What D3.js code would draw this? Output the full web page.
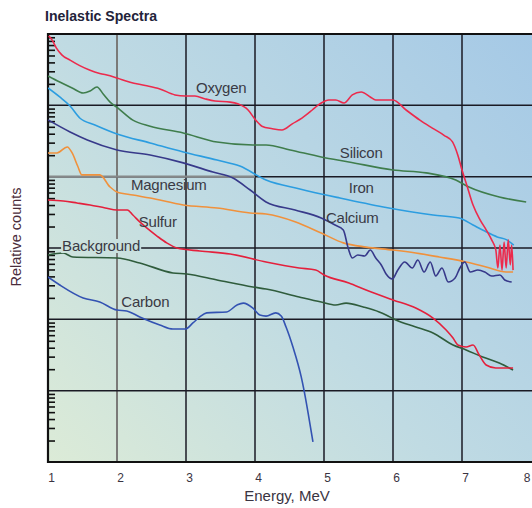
<!DOCTYPE html>
<html><head><meta charset="utf-8">
<script src="https://cdn.jsdelivr.net/npm/d3@7"></script>
<style>
body{margin:0;background:#fff;}
svg text{font-family:"Liberation Sans",Arial,sans-serif;}
</style>
</head><body>
<svg id="chart" width="532" height="508"></svg>
<script>
// ---------- DATA (energy in MeV, relative counts) ----------
const xTickValues = [1, 2, 3, 4, 5, 6, 7, 8];
const yDecades = [1, 10, 100, 1000, 10000, 100000, 1000000];

const oxygenE = [1.01,1.06,1.12,1.2,1.32,1.46,1.61,1.75,1.9,2.01,2.19,2.41,2.62,2.84,2.99,3.13,3.28,3.42,3.64,3.75,3.9,4.01,4.1,4.25,4.39,4.54,4.68,4.83,4.91,4.96,5.07,5.17,5.29,5.41,5.54,5.67,5.75,6.0,6.19,6.39,6.57,6.74,6.86,6.94,7.0,7.07,7.16,7.26,7.35,7.43,7.49,7.52,7.55,7.58,7.61,7.64,7.67,7.7,7.72,7.74];
const oxygenC = [9.4e5,8.2e5,6.4e5,5.1e5,4.3e5,3.6e5,3.1e5,2.8e5,2.6e5,2.4e5,2.1e5,1.9e5,1.7e5,1.4e5,1.35e5,1.35e5,1.23e5,1.15e5,1.11e5,1.05e5,8.6e4,6.2e4,5.1e4,4.7e4,4.5e4,5.5e4,6.6e4,8.6e4,1.0e5,1.08e5,1.19e5,1.19e5,1.08e5,1.4e5,1.54e5,1.31e5,1.19e5,1.19e5,8.6e4,6.2e4,4.8e4,3.8e4,3.1e4,2.0e4,1.24e4,7.6e3,4.0e3,2.5e3,1.8e3,1.3e3,940,525,1100,490,1210,525,1300,580,1100,490];

const siliconE = [1.0,1.17,1.35,1.51,1.61,1.71,1.8,1.9,2.01,2.23,2.48,2.96,3.45,3.97,4.16,4.51,4.96,5.36,6.0,6.48,6.91,7.1,7.54,7.93];
const siliconC = [2.58e5,2.12e5,1.75e5,1.49e5,1.59e5,1.81e5,1.44e5,1.11e5,9.2e4,6.2e4,5.1e4,4.1e4,3.06e4,2.78e4,2.78e4,2.37e4,1.89e4,1.61e4,1.24e4,1.13e4,8.98e3,7.16e3,5.19e3,4.42e3];

const ironE = [1.0,1.17,1.32,1.46,1.68,2.0,2.48,2.96,3.45,3.78,4.16,4.65,5.23,5.86,6.58,6.96,7.16,7.33,7.51,7.65,7.75];
const ironC = [1.75e5,1.31e5,9.8e4,6.65e4,5.31e4,3.97e4,2.97e4,2.22e4,1.71e4,1.41e4,8.98e3,6.72e3,5.02e3,3.76e3,2.9e3,2.64e3,2.1e3,1.73e3,1.43e3,1.3e3,1.1e3];

const calciumE = [1.0,1.32,1.57,2.0,2.48,2.96,3.39,3.68,3.93,4.16,4.58,4.96,5.16,5.28,5.35,5.41,5.49,5.59,5.67,5.75,5.83,5.9,5.99,6.07,6.17,6.28,6.36,6.45,6.54,6.62,6.71,6.8,6.9,6.97,7.04,7.12,7.23,7.33,7.43,7.55,7.62,7.72];
const calciumC = [6.24e4,4.23e4,3.27e4,2.37e4,2.01e4,1.56e4,1.16e4,9.58e3,6.5e3,4.42e3,3.41e3,2.64e3,2.1e3,1.79e3,1.0e3,724,798,773,938,724,578,432,368,492,637,525,679,461,637,405,525,334,380,525,637,461,492,461,405,419,356,334];

const magnesiumE = [1.0,1.13,1.28,1.35,1.43,1.49,1.75,1.9,2.0,2.23,2.48,2.96,3.45,3.93,4.16,4.59,4.96,5.28,5.61,6.0,6.33,6.67,7.06,7.35,7.64,7.74];
const magnesiumC = [2.15e4,2.15e4,2.61e4,2.15e4,1.41e4,1.06e4,1.06e4,7.16e3,6.1e3,5.53e3,5.02e3,4.01e3,3.64e3,3.1e3,3.0e3,2.32e3,1.62e3,1.18e3,1.03e3,938,851,748,637,542,461,461];

const sulfurE = [1.0,1.22,1.42,1.61,1.83,2.0,2.15,2.23,2.33,2.43,2.58,2.72,2.87,3.2,3.64,4.16,4.64,4.88,5.0,5.36,5.61,6.0,6.33,6.58,6.77,6.87,6.94,7.06,7.16,7.25,7.35,7.49,7.74];
const sulfurC = [4.71e3,4.56e3,4.28e3,4.01e3,3.64e3,3.41e3,3.41e3,2.9e3,2.32e3,1.91e3,1.47e3,1.18e3,1.0e3,908,824,637,525,492,419,323,258,187,144,104,70.9,54.7,43.7,40.9,43.7,31.6,22.9,20.8,20.8];

const backgroundE = [1.0,1.22,1.36,2.0,2.33,2.81,3.01,3.45,3.97,4.16,4.64,4.96,5.17,5.32,5.57,5.8,5.9,6.04,6.33,6.58,6.87,7.06,7.3,7.54,7.74];
const backgroundC = [798,851,748,724,617,447,432,356,284,266,206,175,159,169,149,127,115,97.9,78.1,64.3,43.7,37.2,29.6,24.4,19.5];

const carbonE = [1.0,1.17,1.51,1.75,2.0,2.14,2.33,2.62,2.81,2.99,3.1,3.2,3.3,3.59,3.74,3.83,3.97,4.07,4.16,4.3,4.38,4.45,4.55,4.67,4.71,4.77,4.84];
const carbonC = [392,303,199,175,135,131,108,83.3,73.1,73.1,88.9,108,123,127,159,169,144,115,111,123,111,78.1,40.9,15.6,10.2,4.86,1.91];

const labelNames = ["Oxygen","Silicon","Iron","Calcium","Magnesium","Sulfur","Background","Carbon"];
const labelE = [3.51, 5.54, 5.54, 5.41, 2.75, 2.59, 1.77, 2.41];
const labelC = [1.49e5, 1.83e4, 5.9e3, 2.24e3, 6.5e3, 1.97e3, 908, 149];

// ---------- CHART ----------
const svg = d3.select("#chart");
const L = 48, R = 531, T = 34, B = 462;
const x = d3.scaleLinear().domain([1, 8]).range([L, R]);
const y = d3.scaleLog().domain([1, 1e6]).range([B, T]);

const defs = svg.append("defs");
const grad = defs.append("linearGradient").attr("id", "bg")
  .attr("gradientUnits", "userSpaceOnUse")
  .attr("x1", L).attr("y1", B).attr("x2", R).attr("y2", T);
grad.append("stop").attr("offset", 0).attr("stop-color", "#dcebd7");
grad.append("stop").attr("offset", 0.45).attr("stop-color", "#c0dbe3");
grad.append("stop").attr("offset", 1).attr("stop-color", "#a5c9e6");
defs.append("clipPath").attr("id", "plot").append("rect")
  .attr("x", L).attr("y", T).attr("width", R - L + 2).attr("height", B - T);

svg.append("rect").attr("x", L).attr("y", T).attr("width", 540 - L).attr("height", B - T)
  .attr("fill", "url(#bg)");

// grid
const grid = svg.append("g");
grid.selectAll("line.v").data(xTickValues.filter(d => d > 1 && d < 8)).join("line")
  .attr("x1", d => x(d)).attr("x2", d => x(d)).attr("y1", T).attr("y2", B)
  .attr("stroke", d => d === 2 ? "#7a7a78" : "#1a1a24")
  .attr("stroke-width", d => d === 2 ? 2 : 1.5);
grid.selectAll("line.h").data(yDecades.filter(d => d > 1 && d < 1e6)).join("line")
  .attr("x1", L).attr("x2", 540).attr("y1", d => y(d)).attr("y2", d => y(d))
  .attr("stroke", "#1a1a24").attr("stroke-width", 1.5);
// lighter segment of the 10^4 line on the left
grid.append("line").attr("x1", L).attr("x2", x(4)).attr("y1", y(1e4)).attr("y2", y(1e4))
  .attr("stroke", "#86898a").attr("stroke-width", 2.2);

// minor log ticks on the left, pointing inward
const minors = [];
for (let n = 0; n < 6; n++) for (let k = 2; k <= 9; k++) minors.push(k * Math.pow(10, n));
const yAxis = svg.append("g").attr("transform", `translate(${L},0)`)
  .call(d3.axisRight(y).tickValues(minors).tickSize(7).tickFormat(""));
yAxis.select(".domain").remove();
yAxis.selectAll("line").attr("stroke", "#111").attr("stroke-width", 1.6);

// border
svg.append("path")
  .attr("d", `M540,${T}H${L}V${B}H540`)
  .attr("fill", "none").attr("stroke", "#111").attr("stroke-width", 2.2);

// series
const series = [
  {E: backgroundE, C: backgroundC, color: "#2f5c3c"},
  {E: carbonE, C: carbonC, color: "#3352b2"},
  {E: sulfurE, C: sulfurC, color: "#e4203c"},
  {E: magnesiumE, C: magnesiumC, color: "#f0913c"},
  {E: calciumE, C: calciumC, color: "#37398a"},
  {E: ironE, C: ironC, color: "#2c9de0"},
  {E: siliconE, C: siliconC, color: "#3f7d4c"},
  {E: oxygenE, C: oxygenC, color: "#ec2a4c"}
];
const line = d3.line().x(d => x(d[0])).y(d => y(d[1])).curve(d3.curveMonotoneX);
const lines = svg.append("g").attr("clip-path", "url(#plot)");
series.forEach(s => {
  lines.append("path").datum(s.E.map((e, i) => [e, s.C[i]]))
    .attr("d", line).attr("fill", "none")
    .attr("stroke", s.color).attr("stroke-width", 1.6).attr("stroke-linejoin", "round");
});

// curve labels
const lab = svg.append("g");
labelNames.forEach((name, i) => {
  const t = lab.append("text").attr("x", x(labelE[i])).attr("y", y(labelC[i]))
    .attr("text-anchor", "middle").attr("font-size", 15).attr("fill", "#3a3a44")
    .attr("letter-spacing", -0.2).text(name);
  if (name === "Background") {
    const bb = t.node().getBBox();
    lab.insert("rect", "text").attr("x", bb.x - 1).attr("y", bb.y + 2)
      .attr("width", bb.width + 2).attr("height", bb.height - 3).attr("fill", "url(#bg)");
  }
});

// x axis labels
const xAxis = svg.append("g").attr("transform", `translate(0,${B})`)
  .call(d3.axisBottom(x).tickValues(xTickValues).tickSize(0).tickPadding(11).tickFormat(d3.format("d")));
xAxis.select(".domain").remove();
xAxis.selectAll("text").attr("dx", d => d === 8 ? -1 : 3)
  .attr("text-anchor", d => d === 8 ? "end" : "middle")
  .attr("font-size", 12)
  .attr("font-family", "'Liberation Sans', Arial, sans-serif").attr("fill", "#3a3442");

// titles
svg.append("text").attr("x", 45).attr("y", 21).attr("font-size", 15).attr("font-weight", "bold")
  .attr("fill", "#23233a").attr("textLength", 112).attr("lengthAdjust", "spacingAndGlyphs")
  .text("Inelastic Spectra");
svg.append("text").attr("x", 287).attr("y", 501).attr("text-anchor", "middle")
  .attr("font-size", 15).attr("fill", "#3a3442").text("Energy, MeV");
svg.append("text").attr("transform", "translate(21,237) rotate(-90)").attr("text-anchor", "middle")
  .attr("font-size", 14.5).attr("fill", "#4a2c3a").text("Relative counts");
</script>
</body></html>
